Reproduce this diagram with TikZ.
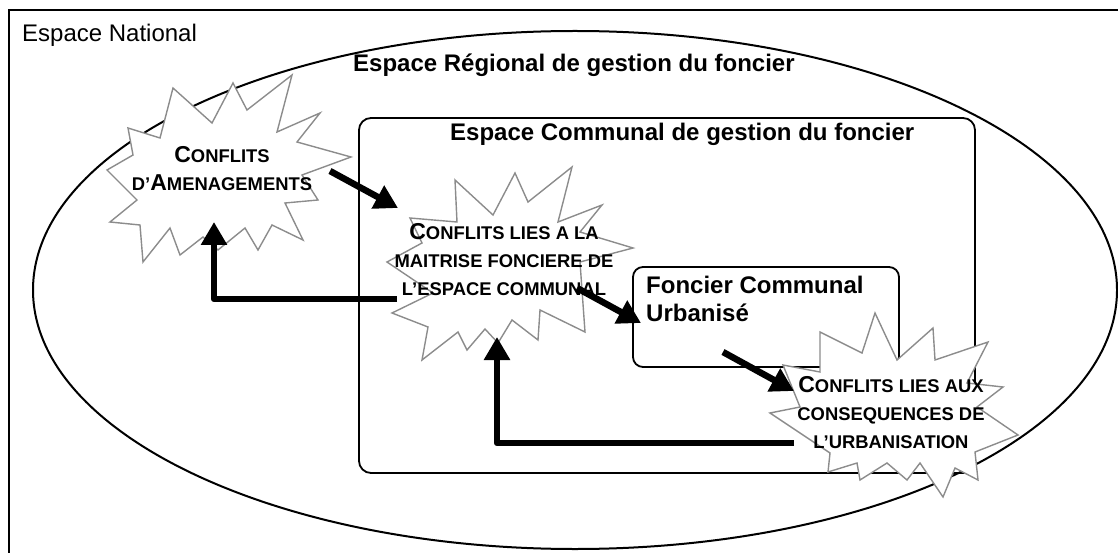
\documentclass[tikz,border=0pt]{standalone}
\usepackage{fontspec}
\setmainfont{Liberation Sans}
\usetikzlibrary{arrows.meta}
\newcommand{\BL}[1]{{\fontsize{23}{28}\selectfont #1}}
\begin{document}
\begin{tikzpicture}[x=1pt,y=-1pt,
  frame/.style={draw=black,line width=2pt},
  zone/.style={draw=black,line width=1.8pt,rounded corners=12pt},
  burst/.style={draw=black!45,fill=white,line width=1.4pt,line join=miter},
  title/.style={font=\fontsize{24}{28}\selectfont\bfseries,inner sep=0pt},
  plain/.style={font=\fontsize{24}{28}\selectfont,inner sep=0pt},
  sc/.style={font=\fontsize{18.4}{28}\selectfont\bfseries,align=center,inner sep=0pt,anchor=north},
  flow/.style={line width=6.5pt,line join=round,-{Triangle[length=23pt,width=25pt]}}
]
\useasboundingbox (0,0) rectangle (1118,553);
\clip (0,0) rectangle (1118,553);

% national frame
\draw[frame] (9,10) rectangle (1140,580);
\node[plain,anchor=base west] (nat) at (22,42) {Espace National};

% regional ellipse
\draw[line width=2pt] (575,290) ellipse [x radius=542, y radius=259];
\node[title,anchor=base west] (reg) at (353,72) {Espace Régional de gestion du foncier};

% communal box
\draw[zone] (359,118) rectangle (975,473);
\node[title,anchor=base west] (com) at (450,141) {Espace Communal de gestion du foncier};

% urbanised box
\draw[zone,rounded corners=10pt] (633,267) rectangle (899,367);
\node[title,anchor=north west,align=left] (fcu) at (646,276) {Foncier Communal\\Urbanisé};

% starburst 1
\draw[burst] (173,88) -- (212,123) -- (233,83) -- (247,110) -- (292,75) -- (277,132)
  -- (320,113) -- (297,142) -- (351,157) -- (302,175) -- (318,200) -- (285,203)
  -- (303,240) -- (272,225) -- (258,250) -- (245,228) -- (218,250) -- (203,237)
  -- (180,255) -- (170,228) -- (143,262) -- (140,225) -- (110,222) -- (137,200)
  -- (107,170) -- (133,155) -- (128,128) -- (160,138) -- cycle;
\node[sc] (s1) at (222,146) {\BL{C}ONFLITS\\D’\BL{A}MENAGEMENTS};

% starburst 2
\draw[burst] (410,218) -- (457,222) -- (455,180) -- (493,215) -- (515,173) -- (528,202)
  -- (572,167) -- (558,222) -- (602,205) -- (580,232) -- (633,248) -- (580,262)
  -- (585,332) -- (540,310) -- (538,340) -- (512,320) -- (498,343) -- (485,329)
  -- (467,350) -- (458,332) -- (422,360) -- (428,327) -- (392,313) -- (433,293)
  -- (387,262) -- (422,243) -- cycle;
\node[sc] (s2) at (504,223) {\BL{C}ONFLITS LIES A LA\\MAITRISE FONCIERE DE\\L’ESPACE COMMUNAL};

% starburst 3
\draw[burst] (875,313) -- (897,360) -- (933,328) -- (935,360) -- (988,342) -- (967,383)
  -- (1003,387) -- (977,407) -- (1018,435) -- (975,452) -- (978,480) -- (955,468)
  -- (943,497) -- (920,463) -- (907,480) -- (887,463) -- (860,480) -- (857,463)
  -- (828,472) -- (830,453) -- (770,413) -- (800,407) -- (783,365) -- (820,372)
  -- (820,332) -- (862,353) -- cycle;
\node[sc] (s3) at (891,376) {\BL{C}ONFLITS LIES AUX\\CONSEQUENCES DE\\L’URBANISATION};

% connector end points
\coordinate (a1s) at (330,171);
\coordinate (a1e) at (398,208);
\coordinate (a2s) at (577,288);
\coordinate (a2e) at (641,323);
\coordinate (a3s) at (723,352);
\coordinate (a3e) at (794,391);
\coordinate (a4s) at (794,443);
\coordinate (a4c) at (497,443);
\coordinate (a4e) at (497,337);
\coordinate (a5s) at (397,299);
\coordinate (a5c) at (214,299);
\coordinate (a5e) at (214,222);

\draw[flow] (a1s) -- (a1e);
\draw[flow] (a2s) -- (a2e);
\draw[flow] (a3s) -- (a3e);
\draw[flow] (a4s) -- (a4c) -- (a4e);
\draw[flow] (a5s) -- (a5c) -- (a5e);
\end{tikzpicture}
\end{document}
